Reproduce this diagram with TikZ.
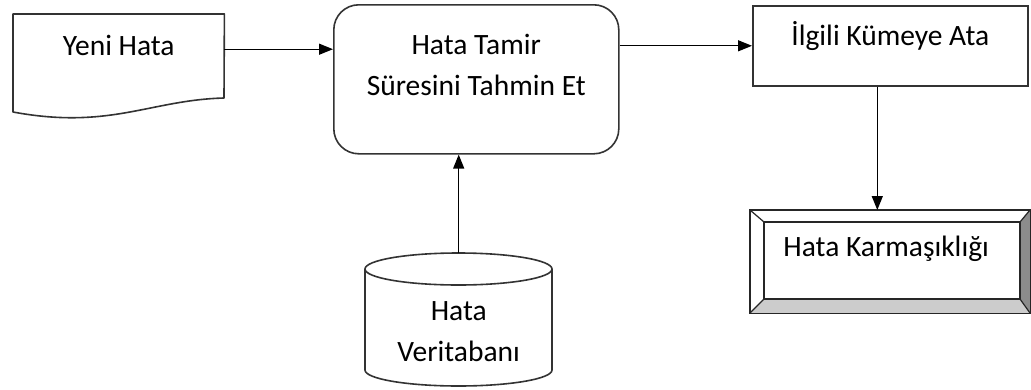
\documentclass[tikz,border=0pt]{standalone}
\usepackage{fontspec}
\setmainfont{Carlito}
\usetikzlibrary{arrows.meta,calc}
\begin{document}
\begin{tikzpicture}[x=1pt,y=-1pt,
  box/.style={draw=none, inner sep=0pt, anchor=north west},
  txt/.style={font=\fontsize{29.5}{41}\selectfont, align=center, inner sep=0pt, text=black},
  outline/.style={draw=black!80, line width=1.6pt},
  bevel/.style={draw=black!85, line width=1.2pt},
  arr/.style={-{Triangle[length=14pt,width=11pt]}, line width=1.3pt}]
\useasboundingbox (0,0) rectangle (1031,389);

% frames of the blocks
\node[box, minimum width=211pt, minimum height=70pt] (doc) at (13,14) {};
\node[box, outline, rounded corners=25pt, minimum width=285pt, minimum height=149pt] (task) at (333,4) {};
\node[box, outline, minimum width=275pt, minimum height=80pt] (assign) at (752,5) {};
\node[box, minimum width=280pt, minimum height=103pt] (cplx) at (750,210) {};
\node[box, minimum width=187pt, minimum height=133pt] (db) at (365,253) {};

% document symbol with wavy lower edge
\draw[outline, fill=white, line join=round] (doc.south west) -- (doc.north west) -- (doc.north east)
  -- (224,98) .. controls (150,100) and (110,130) .. (13,112) -- cycle;

% database cylinder
\draw[outline, fill=white] (365,269) -- (365,370)
  arc[start angle=180, end angle=360, x radius=93.5pt, y radius=16pt] -- (552,269);
\draw[outline, fill=white] (458.5,269) ellipse[x radius=93.5pt, y radius=16pt];

% bevelled output box
\fill[white] (750,210) -- (1030,210) -- (1020,222) -- (764,222) -- cycle;
\fill[white] (750,210) -- (764,222) -- (764,299) -- (750,313) -- cycle;
\fill[black!20] (750,313) -- (764,299) -- (1020,299) -- (1030,313) -- cycle;
\fill[black!45] (1030,210) -- (1020,222) -- (1020,299) -- (1030,313) -- cycle;
\draw[bevel] (cplx.north west) rectangle (cplx.south east);
\draw[bevel] (764,222) rectangle (1020,299);
\draw[bevel] (750,210) -- (764,222) (1030,210) -- (1020,222)
  (750,313) -- (764,299) (1030,313) -- (1020,299);

% labels
\node[txt] (docT) at ($(doc.center)+(0,-4)$) {Yeni Hata};
\node[txt] (taskT) at ($(task.center)+(0,-14)$) {Hata Tamir\\Süresini Tahmin Et};
\node[txt] (assignT) at ($(assign.center)+(0,-10)$) {İlgili Kümeye Ata};
\node[txt] (cplxT) at ($(cplx.center)+(-4,-13)$) {Hata Karmaşıklığı};
\node[txt] (dbT) at ($(db.center)+(0,12)$) {Hata\\Veritabanı};

% connectors
\draw[arr] (doc.east) -- (doc.east -| task.west);
\draw[arr] (task.east |- assign.west) -- (assign.west);
\draw[arr] (db.north) -- (db.north |- task.south);
\draw[arr] ([xshift=-13pt]assign.south) -- ([xshift=-13pt]assign.south |- cplx.north);
\end{tikzpicture}
\end{document}
